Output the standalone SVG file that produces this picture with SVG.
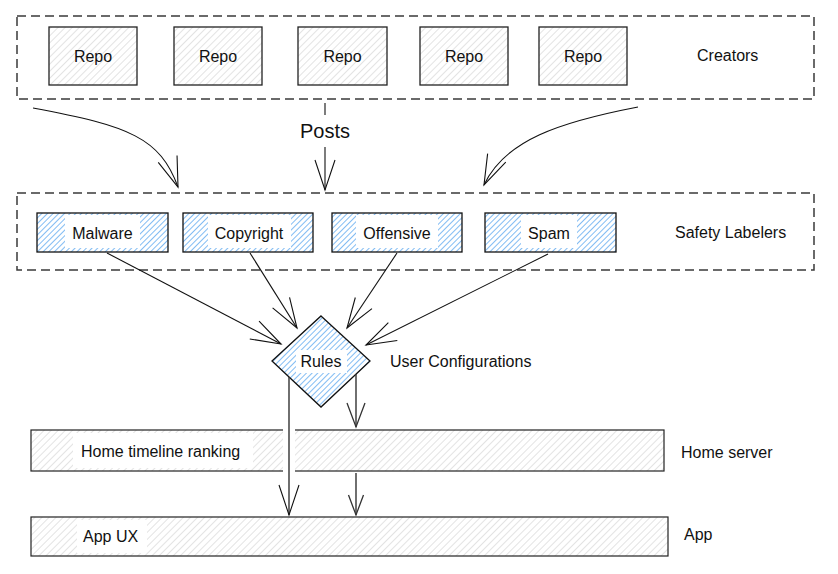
<svg xmlns="http://www.w3.org/2000/svg" width="838" height="574" viewBox="0 0 838 574">
<style>
text{font-family:"Liberation Sans",Arial,sans-serif;font-size:16px;fill:#111;dominant-baseline:central}
.mid{text-anchor:middle}
.group{fill:none;stroke:#3a3a3a;stroke-width:1.5;stroke-dasharray:9 5}
.repo{fill:url(#hatchGray);stroke:#222;stroke-width:1.3}
.lab{fill:url(#hatchBlue);stroke:#111;stroke-width:1.3}
.bar{fill:url(#hatchGray);stroke:#222;stroke-width:1.2}
.bg{fill:#fff;stroke:none}
.conn{fill:none;stroke:#111;stroke-width:1.1}
.vert{fill:none;stroke:#333;stroke-width:1.4}
.halo{fill:none;stroke:#fff;stroke-width:12}
</style>
<defs>
<pattern id="hatchGray" patternUnits="userSpaceOnUse" width="5" height="5" patternTransform="rotate(45)">
<line x1="0" y1="0" x2="0" y2="5" stroke="#c8c8c8" stroke-width="1"/>
</pattern>
<pattern id="hatchBlue" patternUnits="userSpaceOnUse" width="4" height="4" patternTransform="rotate(45)">
<line x1="0" y1="0" x2="0" y2="4" stroke="#3d97ec" stroke-width="1.3"/>
</pattern>
<marker id="arrL" markerUnits="userSpaceOnUse" viewBox="-32 -12 34 24" markerWidth="34" markerHeight="24" refX="0" refY="0" orient="auto">
<path d="M-30,-10 L0,0 L-30,10" fill="none" stroke="#111" stroke-width="1.1"/>
</marker>
<marker id="arrM" markerUnits="userSpaceOnUse" viewBox="-26 -11 28 22" markerWidth="28" markerHeight="22" refX="0" refY="0" orient="auto">
<path d="M-24,-9 L0,0 L-24,9" fill="none" stroke="#333" stroke-width="1.3"/>
</marker>
<marker id="arrS" markerUnits="userSpaceOnUse" viewBox="-22 -9 24 18" markerWidth="24" markerHeight="18" refX="0" refY="0" orient="auto">
<path d="M-20,-7.5 L0,0 L-20,7.5" fill="none" stroke="#333" stroke-width="1.3"/>
</marker>
</defs>
<rect width="838" height="574" fill="#fff"/>

<g id="creators">
<rect class="group" x="17" y="16" width="797" height="83"/>
<text x="697" y="55">Creators</text>
</g>
<g id="repo1"><rect class="repo" x="49" y="27" width="88" height="58"/><text class="mid" x="93" y="56">Repo</text></g>
<g id="repo2"><rect class="repo" x="174" y="27" width="88" height="58"/><text class="mid" x="218" y="56">Repo</text></g>
<g id="repo3"><rect class="repo" x="298" y="27" width="89" height="58"/><text class="mid" x="342.5" y="56">Repo</text></g>
<g id="repo4"><rect class="repo" x="420" y="27" width="88" height="58"/><text class="mid" x="464" y="56">Repo</text></g>
<g id="repo5"><rect class="repo" x="539" y="27" width="88" height="58"/><text class="mid" x="583" y="56">Repo</text></g>

<g id="safety-labelers">
<rect class="group" x="17" y="193" width="797" height="77"/>
<text x="675" y="232">Safety Labelers</text>
</g>
<g id="malware"><rect class="lab" x="37" y="213" width="131" height="39"/><rect class="bg" x="65" y="215" width="75" height="33"/><text class="mid" x="102.5" y="233">Malware</text></g>
<g id="copyright"><rect class="lab" x="183" y="213" width="130" height="39"/><rect class="bg" x="208" y="215" width="83" height="33"/><text class="mid" x="249" y="233">Copyright</text></g>
<g id="offensive"><rect class="lab" x="332" y="213" width="130" height="39"/><rect class="bg" x="356" y="215" width="82" height="33"/><text class="mid" x="397" y="233">Offensive</text></g>
<g id="spam"><rect class="lab" x="485" y="213" width="131" height="39"/><rect class="bg" x="521" y="215" width="56" height="33"/><text class="mid" x="549" y="233">Spam</text></g>

<g id="rules">
<polygon class="lab" points="321,316 370,361 321,407 272,361"/>
<rect class="bg" x="296" y="350" width="51" height="23"/>
<text class="mid" x="321" y="361">Rules</text>
<text x="390" y="361">User Configurations</text>
</g>

<g id="home-server">
<rect class="bar" x="31" y="430" width="633" height="41"/>
<rect class="bg" x="73" y="433" width="180" height="35"/>
<text x="81" y="451">Home timeline ranking</text>
<text x="681" y="452">Home server</text>
</g>
<g id="app">
<rect class="bar" x="31" y="517" width="637" height="39"/>
<rect class="bg" x="77" y="520" width="70" height="33"/>
<text x="83" y="536">App UX</text>
<text x="684" y="534">App</text>
</g>

<g id="connectors">
<path class="conn" d="M33,108 C130,126 160,138 178,187" marker-end="url(#arrL)"/>
<path class="conn" d="M638,107 C560,122 505,140 484,185" marker-end="url(#arrL)"/>
<path class="conn" d="M325,103 L325,190" marker-end="url(#arrL)"/>
<rect class="bg" x="298" y="115" width="54" height="32"/>
<text class="mid" x="325" y="131" style="font-size:20px">Posts</text>
<path class="conn" d="M107,253 L281,344" marker-end="url(#arrL)"/>
<path class="conn" d="M250,253 L297,328" marker-end="url(#arrL)"/>
<path class="conn" d="M397,253 L347,328" marker-end="url(#arrL)"/>
<path class="conn" d="M548,254 L366,345" marker-end="url(#arrL)"/>
<path class="halo" d="M289,428 L289,473"/>
<path class="vert" d="M289,377 L289,515" marker-end="url(#arrL)"/>
<path class="vert" d="M356,374 L356,427" marker-end="url(#arrM)"/>
<path class="vert" d="M356,473 L356,515" marker-end="url(#arrS)"/>
</g>
</svg>
